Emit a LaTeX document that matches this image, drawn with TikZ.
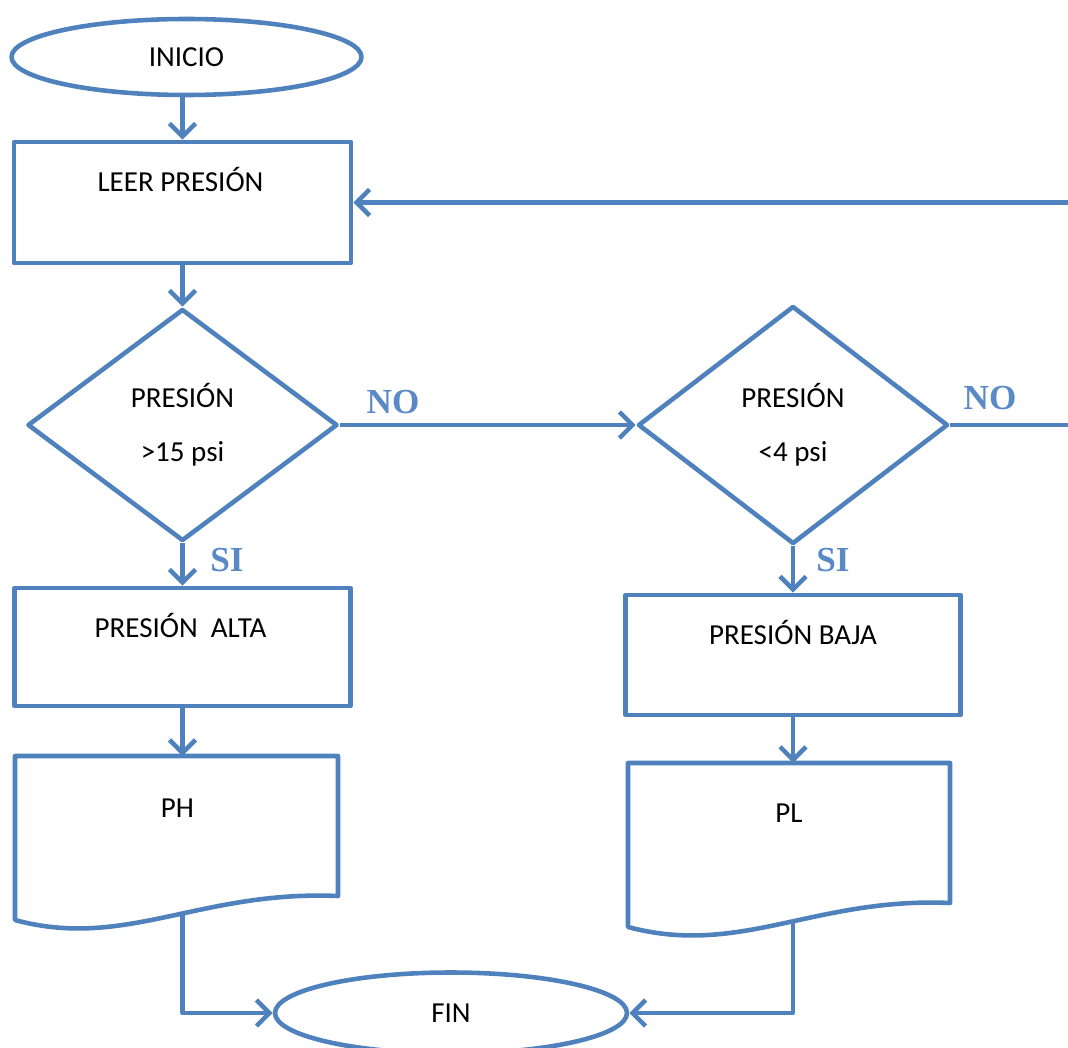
\documentclass[tikz,border=0pt]{standalone}
\usepackage{fontspec}
\setmainfont{Carlito}
\newfontfamily\answerfont{Liberation Serif}
\usetikzlibrary{shapes.geometric,arrows.meta}
\definecolor{flowblue}{HTML}{4F81BD}
\definecolor{answerblue}{HTML}{5A8AC6}

\begin{document}
\begin{tikzpicture}[
  line width=2.6pt, line join=round, flowblue,
  every node/.style={text=black,font=\fontsize{16.5}{20}\selectfont},
  terminal/.style={draw=flowblue,ellipse,inner sep=0pt},
  process/.style={draw=flowblue,rectangle,inner sep=0pt},
  decision/.style={draw=flowblue,diamond,minimum width=6.2cm,inner sep=0pt,align=center},
  flow/.style={-{Straight Barb[length=0.26cm,width=0.52cm]}},
  answer/.style={text=answerblue,font=\answerfont\bfseries\fontsize{20}{20}\selectfont}
]

\useasboundingbox (0,0) rectangle (21.36,-20.96) ;
\clip (0,0) rectangle (21.36,-20.96) ;

%start and reading
\node [terminal,minimum width=7cm,minimum height=1.52cm] (inicio) at (3.73,-1.14) {INICIO} ;
\node [process,minimum width=6.74cm,minimum height=2.42cm] (leer) at (3.65,-4.05) {} ;
\node (leertxt) at ([xshift=-0.04cm,yshift=-0.8cm]leer.north) {LEER PRESIÓN} ;

%first test
\node [decision,minimum height=4.64cm] (dec1) at (3.65,-8.5) {PRESIÓN\\[0.38cm]>15 psi} ;
\node [answer] (no1) at (7.86,-8.04) {NO} ;
\node [answer] (si1) at (4.54,-11.2) {SI} ;

%second test
\node [decision,minimum height=4.76cm] (dec2) at (15.86,-8.5) {PRESIÓN\\[0.38cm]<4 psi} ;
\node [answer] (no2) at (19.8,-7.96) {NO} ;
\node [answer] (si2) at (16.66,-11.2) {SI} ;

%high pressure branch
\node [process,minimum width=6.72cm,minimum height=2.36cm] (alta) at (3.65,-12.94) {} ;
\node (altatxt) at ([xshift=-0.04cm,yshift=-0.8cm]alta.north) {PRESIÓN~~ALTA} ;

\coordinate (phtop) at (3.65,-15.12) ;
\coordinate (phbot) at (3.65,-18.3) ;
\draw (0.3,-15.12) -- (6.76,-15.12) -- (6.76,-17.92) .. controls (4,-17.8) and (2.5,-19) .. (0.3,-18.4) -- cycle ;
\node (ph) at ([xshift=-0.1cm,yshift=-1.04cm]phtop) {PH} ;

%low pressure branch
\node [process,minimum width=6.7cm,minimum height=2.4cm] (baja) at (15.86,-13.1) {} ;
\node (bajatxt) at ([yshift=-0.8cm]baja.north) {PRESIÓN BAJA} ;

\coordinate (pltop) at (15.86,-15.26) ;
\coordinate (plbot) at (15.86,-18.44) ;
\draw (12.56,-15.26) -- (19,-15.26) -- (19,-18.06) .. controls (16.3,-17.94) and (14.8,-19.14) .. (12.56,-18.54) -- cycle ;
\node (pl) at ([xshift=-0.08cm,yshift=-1cm]pltop) {PL} ;

%end
\node [terminal,minimum width=7.04cm,minimum height=1.62cm] (fin) at (9.02,-20.26) {FIN} ;

%connectors
\draw [flow] (leer.north |- inicio.south) -- (leer.north) ;
\draw [flow] (leer.south) -- (dec1.north) ;
\draw [flow] (dec1.east) -- (dec2.west) ;
\coordinate (loopin) at (21.44,-8.5) ;
\draw [flow] (dec2.east) -- (loopin) |- (leer.east) ;
\draw [flow] (dec1.south) -- (alta.north) ;
\draw [flow] (alta.south) -- (phtop) ;
\draw [flow] (dec2.south) -- (baja.north) ;
\draw [flow] (baja.south) -- (pltop) ;
\draw [flow] (phbot) |- (fin.west) ;
\draw [flow] (plbot) |- (fin.east) ;

\end{tikzpicture}
\end{document}
